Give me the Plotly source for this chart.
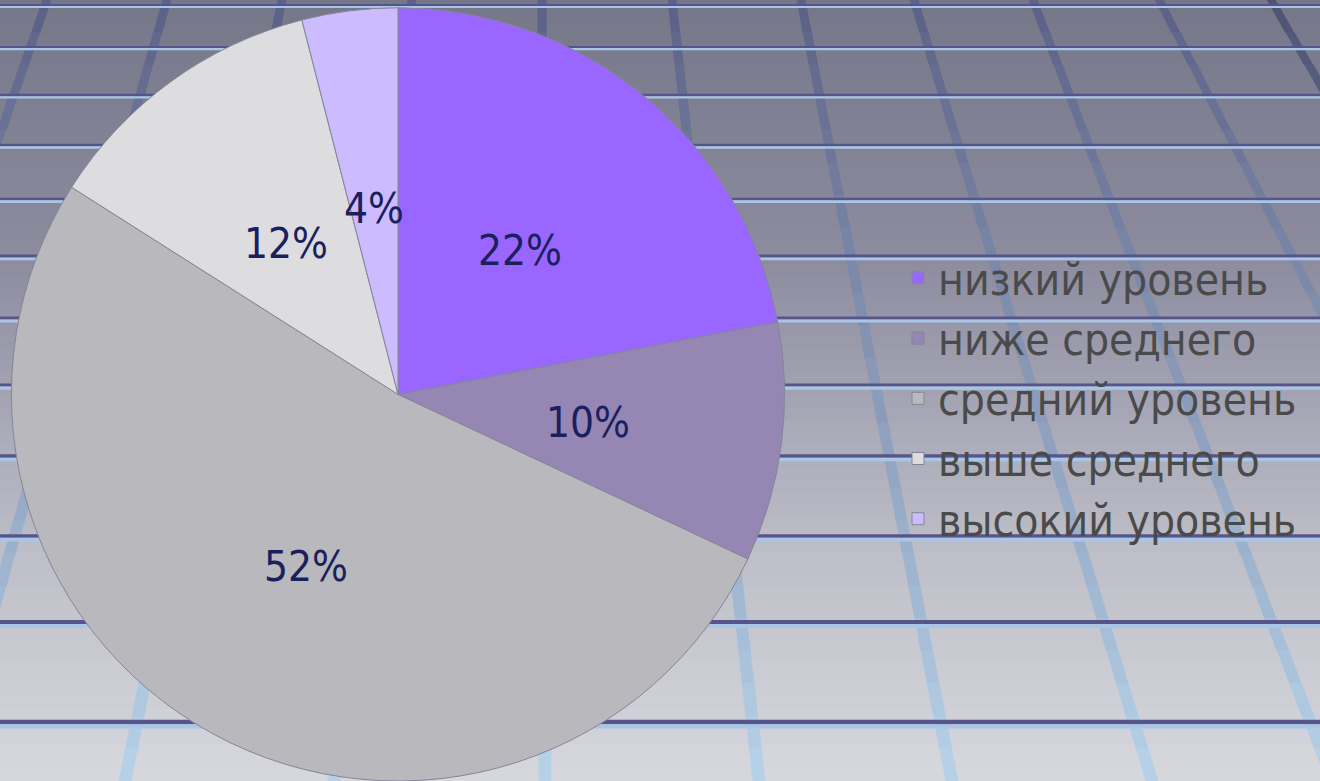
import math
import plotly.graph_objects as go

# ---- data ----
labels = ["низкий уровень", "ниже среднего", "средний уровень", "выше среднего", "высокий уровень"]
values = [22, 10, 52, 12, 4]
slice_colors = ["#9966FF", "#9686B4", "#B9B8BC", "#DDDDDF", "#CCBBFF"]

W, H = 1320, 781
FONT = "DejaVu Sans Condensed, DejaVu Sans, sans-serif"

# pie placement (pixels)
DOM_X = [11 / W, 785 / W]
DOM_Y = [0, 0.99]

# ---- decorative background (perspective grid slide) ----
bg_stops = [(0, (118, 118, 138)), (250, (140, 139, 158)), (400, (165, 164, 180)),
            (550, (190, 190, 200)), (781, (215, 215, 222))]
h_lines_y = [5, 47, 95, 145, 199, 256, 318, 385, 456, 536, 622, 722]
v_lines = [(47, -226), (167, -55), (282, 125), (412, 334), (542, 545), (672, 759),
           (801, 952), (914, 1152), (1033, 1333), (1159, 1565), (1271, 1725)]


def interp_color(y):
    for (y0, c0), (y1, c1) in zip(bg_stops[:-1], bg_stops[1:]):
        if y0 <= y <= y1:
            t = (y - y0) / (y1 - y0)
            return tuple(int(round(a + (b - a) * t)) for a, b in zip(c0, c1))
    return bg_stops[-1][1]


def px(x):
    return x / W


def py(y):
    return 1 - y / H


shapes = []
step = 12
for y in range(0, H + step, step):
    c = interp_color(min(y + step / 2, H))
    shapes.append(dict(type="rect", xref="paper", yref="paper", layer="below",
                       x0=0, x1=1, y0=py(min(y + step + 1, H)), y1=py(y),
                       fillcolor="rgb(%d,%d,%d)" % c, line=dict(width=0)))

# diagonal (receding) lines as thin filled quads (colour/width change with depth)
nseg = 24
top_c = (92, 97, 134)
bot_c = (184, 212, 234)
for i, (xt, xb) in enumerate(v_lines):
    for s in range(nseg):
        t0, t1 = s / nseg, (s + 1) / nseg
        tm = (t0 + t1) / 2
        c = tuple(int(a + (b - a) * tm) for a, b in zip(top_c, bot_c))
        if i == len(v_lines) - 1:
            c = tuple(int(v * 0.86) for v in c)
        w0 = 9 + 4 * t0
        w1 = 9 + 4 * t1
        xa = xt + (xb - xt) * t0
        xb_ = xt + (xb - xt) * t1
        ya = H * t0 - 0.5
        yb = H * t1 + 0.5
        path = "M %f,%f L %f,%f L %f,%f L %f,%f Z" % (
            px(xa - w0 / 2), py(ya), px(xa + w0 / 2), py(ya),
            px(xb_ + w1 / 2), py(yb), px(xb_ - w1 / 2), py(yb))
        shapes.append(dict(type="path", xref="paper", yref="paper", layer="below",
                           path=path, fillcolor="rgb(%d,%d,%d)" % c,
                           line=dict(width=0)))

# horizontal lines: dark stripe on top, light-blue stripe below
for y in h_lines_y:
    t = y / H
    w = 2 + 2.5 * t
    shapes.append(dict(type="line", xref="paper", yref="paper", layer="below",
                       x0=0, x1=1, y0=py(y), y1=py(y),
                       line=dict(color="#55558A", width=w)))
    shapes.append(dict(type="line", xref="paper", yref="paper", layer="below",
                       x0=0, x1=1, y0=py(y + w), y1=py(y + w),
                       line=dict(color="#A9C6E6", width=w)))

# ---- chart ----
fig = go.Figure()
fig.add_trace(go.Pie(
    labels=labels,
    values=values,
    sort=False,
    direction="clockwise",
    rotation=0,
    marker=dict(colors=slice_colors, line=dict(color="#85859A", width=1)),
    textinfo="none",
    domain=dict(x=DOM_X, y=DOM_Y),
    hoverinfo="label+percent",
))

# percentage labels on each slice's bisector, half-way out
cx = (DOM_X[0] + DOM_X[1]) / 2 * W
cy = (1 - (DOM_Y[0] + DOM_Y[1]) / 2) * H
R = min((DOM_X[1] - DOM_X[0]) * W, (DOM_Y[1] - DOM_Y[0]) * H) / 2
total = sum(values)
cum = 0
annotations = []
for v in values:
    mid = (cum + v / 2) / total * 2 * math.pi
    cum += v
    lx = cx + 0.495 * R * math.sin(mid)
    ly = cy - 0.495 * R * math.cos(mid) + 4
    annotations.append(dict(
        x=px(lx), y=py(ly), xref="paper", yref="paper",
        text="%d%%" % round(v / total * 100), showarrow=False,
        xanchor="center", yanchor="middle",
        font=dict(family=FONT, size=42, color="#1B1F5E"),
    ))

fig.update_layout(
    width=W, height=H,
    margin=dict(l=0, r=0, t=0, b=0),
    paper_bgcolor="rgb(160,160,175)",
    plot_bgcolor="rgba(0,0,0,0)",
    shapes=shapes,
    annotations=annotations,
    showlegend=True,
    legend=dict(
        x=898 / W, xanchor="left", y=0.49, yanchor="middle",
        bgcolor="rgba(0,0,0,0)",
        font=dict(family=FONT, size=44, color="#4A4A4A"),
        itemwidth=30,
        traceorder="normal",
    ),
)

fig.write_html("out.html")
